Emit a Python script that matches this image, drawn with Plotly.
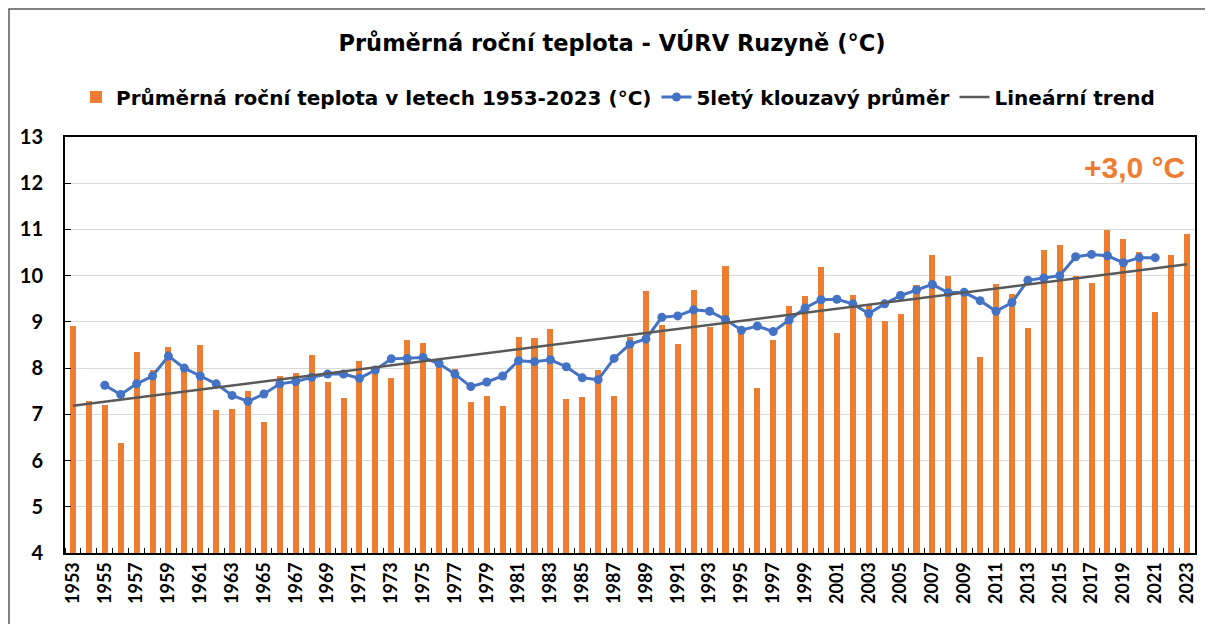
import numpy as np
import plotly.graph_objects as go

years = list(range(1953, 2024))
temps = [8.91, 7.29, 7.20, 6.38, 8.35, 7.95, 8.46, 8.03, 8.51, 7.10,
         7.11, 7.50, 6.84, 7.83, 7.90, 8.28, 7.70, 7.36, 8.16, 7.90,
         7.78, 8.61, 8.54, 8.15, 7.98, 7.27, 7.39, 7.18, 8.68, 8.65,
         8.85, 7.33, 7.38, 7.96, 7.39, 8.67, 9.66, 8.93, 8.52, 9.70,
         8.90, 10.21, 8.83, 7.58, 8.61, 9.35, 9.55, 10.18, 8.75, 9.59,
         9.38, 9.03, 9.16, 9.80, 10.45, 10.00, 9.64, 8.24, 9.82, 9.60,
         8.87, 10.55, 10.66, 10.00, 9.85, 10.98, 10.79, 10.52, 9.21, 10.45,
         10.91]
ma_years = list(range(1955, 2022))
ma_vals = [7.63, 7.43, 7.66, 7.83, 8.26, 8.00, 7.83, 7.66, 7.41, 7.28,
           7.44, 7.66, 7.71, 7.80, 7.87, 7.87, 7.78, 7.96, 8.20, 8.21,
           8.23, 8.10, 7.87, 7.60, 7.70, 7.83, 8.16, 8.14, 8.18, 8.03,
           7.79, 7.75, 8.21, 8.52, 8.63, 9.10, 9.13, 9.26, 9.23, 9.05,
           8.82, 8.91, 8.79, 9.04, 9.30, 9.48, 9.49, 9.39, 9.18, 9.39,
           9.57, 9.69, 9.81, 9.63, 9.64, 9.46, 9.23, 9.42, 9.90, 9.95,
           10.00, 10.41, 10.46, 10.43, 10.28, 10.39, 10.39]
tick_years = years[::2]

slope, intercept = np.polyfit(years, temps, 1)
trend_x = [years[0], years[-1]]
trend_y = [slope * x + intercept for x in trend_x]

TICKFONT = "Lato"
TEXTFONT = "DejaVu Sans"
OFF = 8  # page body margin

fig = go.Figure()
fig.add_trace(go.Bar(
    x=years, y=temps, width=0.38,
    marker=dict(color="#ED7D31", line=dict(width=0)),
    name="Průměrná roční teplota v letech 1953-2023 (°C)",
))
fig.add_trace(go.Scatter(
    x=ma_years, y=ma_vals, mode="lines+markers",
    line=dict(color="#4472C4", width=3),
    marker=dict(color="#4472C4", size=9),
    name="5letý klouzavý průměr",
))
fig.add_trace(go.Scatter(
    x=trend_x, y=trend_y, mode="lines",
    line=dict(color="#595959", width=2.5),
    name="Lineární trend",
))

fig.update_layout(
    width=1213, height=624,
    margin=dict(l=65 - OFF, r=1213 - 1195 + OFF, t=137 - OFF, b=624 - 553 + OFF),
    paper_bgcolor="white", plot_bgcolor="white",
    font=dict(family=TICKFONT, color="black", weight="bold"),
    title=dict(text="Průměrná roční teplota - VÚRV Ruzyně (°C)",
               x=(612 - OFF) / 1213, xanchor="center",
               y=1 - (43 - OFF) / 624, yanchor="middle",
               font=dict(family=TEXTFONT, size=22.5, color="black", weight="bold")),
    legend=dict(orientation="h", x=(618 - 65) / 1130, xanchor="center",
                y=1 + (137 - 97) / 416, yanchor="middle",
                font=dict(family=TEXTFONT, size=20, color="black", weight="bold"),
                itemwidth=30, tracegroupgap=0),
    bargap=0,
    showlegend=True,
)
fig.update_xaxes(
    range=[1952.5, 2023.5],
    tickmode="array", tickvals=tick_years, ticktext=[str(y) for y in tick_years],
    tickangle=-90, ticks="", tickfont=dict(family=TICKFONT, size=18, weight="bold"),
    showgrid=False, showline=True, linecolor="black", linewidth=2, mirror=True,
    minor=dict(tick0=1952.5, dtick=1, ticks="inside", ticklen=5, tickcolor="black",
               tickwidth=1, showgrid=False),
    zeroline=False,
)
fig.update_yaxes(
    range=[4, 13], dtick=1, tick0=4,
    ticks="inside", ticklen=6, tickcolor="black", tickwidth=1,
    tickfont=dict(family=TICKFONT, size=20, weight="bold"),
    ticklabelstandoff=16,
    showgrid=True, gridcolor="#D9D9D9", gridwidth=1,
    showline=True, linecolor="black", linewidth=2, mirror=True,
    zeroline=False,
)
fig.add_annotation(
    text="+3,0 °C", xref="paper", yref="paper",
    x=(1187 - 65) / 1130, y=1 - (168 - 137) / 416,
    xanchor="right", yanchor="middle", showarrow=False,
    font=dict(family="Liberation Sans", size=30, color="#ED7D31", weight="bold"),
)
fig.add_shape(
    type="rect", xref="paper", yref="paper",
    x0=(9 - 65) / 1130, x1=(1230 - 65) / 1130,
    y0=1 - (660 - 137) / 416, y1=1 + (137 - 9) / 416,
    line=dict(color="#595959", width=1.5), fillcolor="rgba(0,0,0,0)", layer="below",
)
fig.write_html("out.html")
